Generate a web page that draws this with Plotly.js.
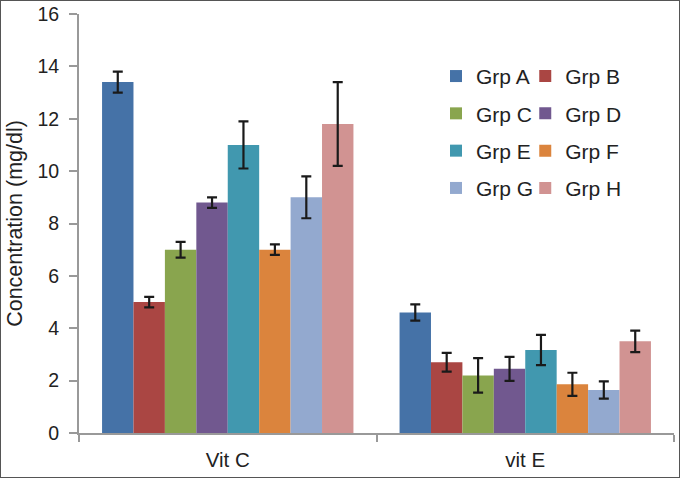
<!DOCTYPE html>
<html>
<head>
<meta charset="utf-8">
<script src="https://cdn.plot.ly/plotly-3.0.1.min.js"></script>
<style>
  html, body { margin: 0; padding: 0; background: #fff; }
  #wrap { position: relative; width: 680px; height: 478px; }
  #chart { width: 680px; height: 478px; }
  #frame { position: absolute; left: 0; top: 0; width: 678px; height: 476px; border: 1px solid #555; pointer-events: none; }
</style>
</head>
<body>
<div id="wrap">
  <div id="chart"></div>
  <div id="frame"></div>
</div>
<script>
const categories = ["Vit C", "vit E"];
const groups = ["Grp A", "Grp B", "Grp C", "Grp D", "Grp E", "Grp F", "Grp G", "Grp H"];
const vitC = [13.4, 5.0, 7.0, 8.8, 11.0, 7.0, 9.0, 11.8];
const vitCErr = [0.4, 0.2, 0.3, 0.2, 0.9, 0.2, 0.8, 1.6];
const vitE = [4.6, 2.7, 2.2, 2.45, 3.17, 1.86, 1.64, 3.5];
const vitEErr = [0.31, 0.36, 0.66, 0.46, 0.58, 0.44, 0.33, 0.41];
const colors = ["#4572A7", "#AA4643", "#89A54E", "#71588F", "#4198AF", "#DB843D", "#93A9CF", "#D19392"];
const yTicks = [0, 2, 4, 6, 8, 10, 12, 14, 16];

const FONT = "Liberation Sans, Arial, sans-serif";

const traces = groups.map((g, i) => ({
  type: "bar",
  name: g,
  x: categories,
  y: [vitC[i], vitE[i]],
  marker: { color: colors[i], line: { width: 0 } },
  error_y: { type: "data", array: [vitCErr[i], vitEErr[i]], visible: true, color: "#1a1a1a", thickness: 2.2, width: 5 },
  legend: (i % 2 === 0) ? "legend" : "legend2",
  legendgroup: g
}));

const legendCommon = {
  font: { family: FONT, size: 21, color: "#222" },
  bgcolor: "rgba(0,0,0,0)",
  traceorder: "grouped",
  tracegroupgap: 7,
  xanchor: "left",
  yanchor: "top",
  itemclick: false
};

const layout = {
  width: 680,
  height: 478,
  margin: { l: 79, r: 6, t: 14, b: 45 },
  paper_bgcolor: "#fff",
  plot_bgcolor: "#fff",
  barmode: "group",
  bargap: 0.155,
  bargroupgap: 0,
  font: { family: FONT, size: 20, color: "#222" },
  showlegend: true,
  legend: Object.assign({}, legendCommon, { x: 0.6, y: 0.90 }),
  legend2: Object.assign({}, legendCommon, { x: 0.75, y: 0.90 }),
  xaxis: {
    type: "category",
    tickson: "boundaries",
    ticks: "outside",
    ticklen: 7,
    tickwidth: 2,
    tickcolor: "#999",
    showline: true,
    linecolor: "#999",
    linewidth: 2,
    ticklabelstandoff: 7,
    tickfont: { family: FONT, size: 20.5, color: "#222" },
    showgrid: false,
    zeroline: false
  },
  yaxis: {
    range: [0, 16],
    tickvals: yTicks,
    ticks: "outside",
    ticklen: 8,
    tickwidth: 2,
    tickcolor: "#999",
    showline: true,
    linecolor: "#999",
    linewidth: 2,
    ticklabelstandoff: 6,
    showgrid: false,
    zeroline: false,
    tickfont: { family: FONT, size: 19.5, color: "#222" },
    title: { text: "Concentration (mg/dl)", font: { family: FONT, size: 21.5, color: "#222" }, standoff: 9 }
  }
};

Plotly.newPlot("chart", traces, layout, { staticPlot: true, displayModeBar: false });
</script>
</body>
</html>
